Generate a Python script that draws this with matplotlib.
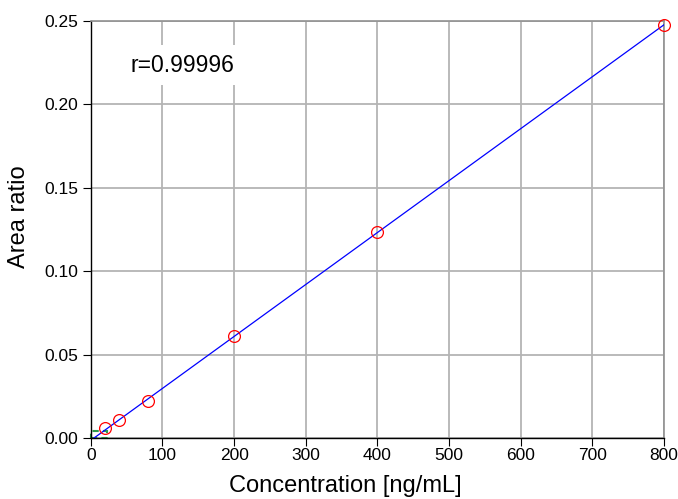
import numpy as np
import matplotlib.pyplot as plt
from matplotlib.patches import Rectangle

plt.rcParams['font.family'] = ['Liberation Sans', 'DejaVu Sans']

conc = [20, 40, 80, 200, 400, 800]
area_ratio = [0.0062, 0.0110, 0.0220, 0.0612, 0.1233, 0.2476]
r_text = "r=0.99996"

slope, intercept = np.polyfit(conc, area_ratio, 1)
xfit = np.array([0, 800])

fig = plt.figure(figsize=(6.78, 4.99), dpi=100, facecolor="white")
ax = fig.add_axes([0.134, 0.122, 0.845, 0.836])

ax.set_xlim(0, 800)
ax.set_ylim(0, 0.25)
ax.set_xticks(np.arange(0, 801, 100))
ax.set_yticks(np.arange(0, 0.251, 0.05))
ax.set_yticklabels(["%.2f" % v for v in np.arange(0, 0.251, 0.05)])

ax.grid(True, color="#b4b4b4", linewidth=1.3)
ax.set_axisbelow(True)
for s in ["top", "right"]:
    ax.spines[s].set_color("#909090")
    ax.spines[s].set_linewidth(1.2)
for s in ["left", "bottom"]:
    ax.spines[s].set_color("black")
    ax.spines[s].set_linewidth(1.0)

ax.tick_params(direction="out", length=6, labelsize=12.5, color="black")
ax.tick_params(axis="x", pad=1)
ax.tick_params(axis="y", pad=3)

# small green dashed box near the origin
ax.add_patch(Rectangle((0, 0), 22, 0.0045, fill=False, edgecolor="#2e9a4a",
                       linestyle=(0, (3, 2)), linewidth=1.5, zorder=2.5,
                       clip_on=False))

ax.plot(xfit, slope * xfit + intercept, color="blue", linewidth=0.9, zorder=3)
ax.plot(conc, area_ratio, "o", markersize=8.5, markerfacecolor="none",
        markeredgecolor="red", markeredgewidth=0.9, zorder=4, clip_on=False)

ax.text(128, 0.2235, r_text, fontsize=16.5, ha="center", va="center",
        bbox=dict(facecolor="white", edgecolor="none", pad=6), zorder=5)

ax.set_xlabel("Concentration [ng/mL]", fontsize=17)
ax.xaxis.set_label_coords(0.445, -0.088)
ax.set_ylabel("Area ratio", fontsize=17)
ax.yaxis.set_label_coords(-0.107, 0.532)

fig.savefig("out.png", dpi=100, facecolor="white")
